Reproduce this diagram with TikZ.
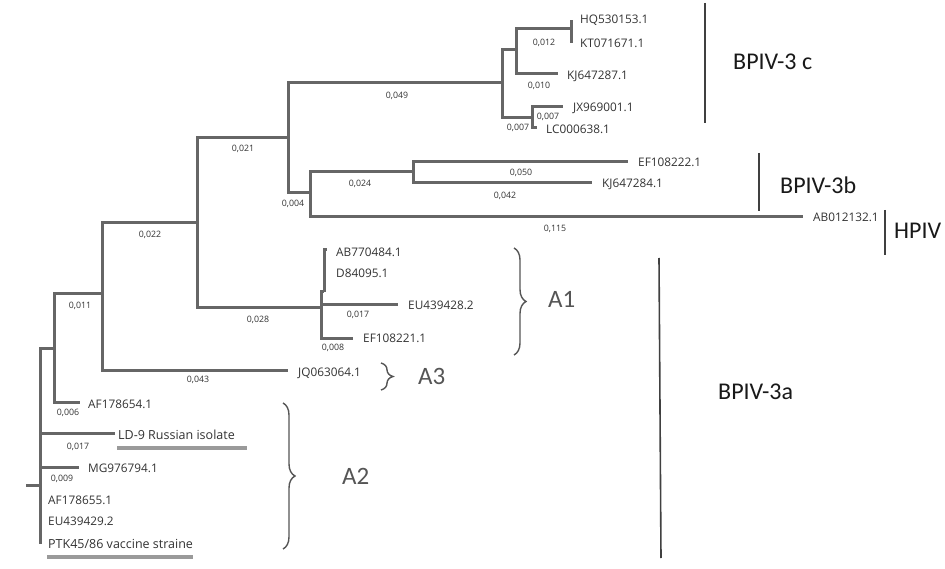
\documentclass[tikz,border=0pt]{standalone}
\usepackage{fontspec}
\setmainfont{Carlito}
\newfontfamily\tipfont{Open Sans}
\usetikzlibrary{decorations.pathreplacing}
\definecolor{treegray}{HTML}{666666}
\definecolor{tipgray}{HTML}{333333}
\definecolor{bracegray}{HTML}{555555}
\definecolor{ulgray}{HTML}{9A9A9A}
\begin{document}
\begin{tikzpicture}[x=1pt,y=-1pt,
  br/.style={draw=treegray,line width=3pt},
  tip/.style={anchor=west,inner sep=0pt,text=tipgray,font=\tipfont\fontsize{11.8}{12}\selectfont},
  tipbig/.style={tip,font=\tipfont\fontsize{12.5}{13}\selectfont},
  bl/.style={inner sep=0pt,text=tipgray,font=\tipfont\fontsize{8.8}{9}\selectfont},
  clade/.style={draw=black!75,line width=1.6pt},
  cladelabel/.style={anchor=west,inner sep=0pt,text=black!90,font=\fontsize{24}{28}\selectfont},
  grp/.style={anchor=west,inner sep=0pt,text=bracegray,font=\fontsize{25}{28}\selectfont},
  brc/.style={draw=bracegray,line width=1.4pt,decorate,decoration={brace,amplitude=12pt,aspect=0.5}},
  ul/.style={draw=ulgray,line width=3.5pt}]
\useasboundingbox[fill=white] (0,0) rectangle (945,569);

% ---- tree node coordinates ----
\coordinate (root) at (26,485);
\coordinate (r) at (40,485);
\coordinate (rbot) at (40,544);
\coordinate (n1) at (54,348);
\coordinate (a654) at (80,402);
\coordinate (n2) at (102,294);
\coordinate (jq) at (288,370);
\coordinate (n3) at (197,223);
\coordinate (nA1) at (321,308);
\coordinate (eu428) at (398,305);
\coordinate (ef221) at (353,338);
\coordinate (s1) at (324,292);
\coordinate (ab484) at (327,250);
\coordinate (d095) at (326,272);
\coordinate (n4) at (288,138);
\coordinate (c3) at (502,83);
\coordinate (c3a) at (516,50);
\coordinate (c3aa) at (571,29);
\coordinate (hq) at (571,20);
\coordinate (kt) at (571,43);
\coordinate (kj287) at (558,74);
\coordinate (c3b) at (532,118);
\coordinate (jx) at (563,107);
\coordinate (lc) at (537,128);
\coordinate (n5) at (310,193);
\coordinate (b3) at (413,172);
\coordinate (ef222) at (628,162);
\coordinate (kj284) at (592,183);
\coordinate (hpiv) at (803,217);
\coordinate (ld9) at (115,433);
\coordinate (mg) at (79,467);

% ---- branches ----
\draw[br] (root) -- (r);
\draw[br] (r) -- (rbot);
\draw[br] (r) |- (n1);
\draw[br] (r) |- (ld9);
\draw[br] (r) |- (mg);
\draw[br] (n1) |- (a654);
\draw[br] (n1) |- (n2);
\draw[br] (n2) |- (jq);
\draw[br] (n2) |- (n3);
\draw[br] (n3) |- (nA1);
\draw[br] (nA1) |- (eu428);
\draw[br] (nA1) |- (ef221);
\draw[br] (nA1) |- (s1);
\draw[br] (s1) |- (ab484);
\draw[br] (s1) |- (d095);
\draw[br] (n3) |- (n4);
\draw[br] (n4) |- (c3);
\draw[br] (c3) |- (c3a);
\draw[br] (c3a) |- (c3aa);
\draw[br] (c3aa) -- (hq);
\draw[br] (c3aa) -- (kt);
\draw[br] (c3a) |- (kj287);
\draw[br] (c3) |- (c3b);
\draw[br] (c3b) |- (jx);
\draw[br] (c3b) |- (lc);
\draw[br] (n4) |- (n5);
\draw[br] (n5) |- (b3);
\draw[br] (b3) |- (ef222);
\draw[br] (b3) |- (kj284);
\draw[br] (n5) |- (hpiv);

% ---- tip labels ----
\node[tip] (tHQ) at (580,20) {HQ530153.1};
\node[tip] (tKT) at (580,43) {KT071671.1};
\node[tip] (tKJ7) at (567,76) {KJ647287.1};
\node[tip] (tJX) at (573,108) {JX969001.1};
\node[tip] (tLC) at (546,129) {LC000638.1};
\node[tip] (tEF2) at (638,162) {EF108222.1};
\node[tip] (tKJ4) at (602,184) {KJ647284.1};
\node[tip] (tAB2) at (813,217) {AB012132.1};
\node[tip] (tAB4) at (336,252) {AB770484.1};
\node[tip] (tD84) at (336,273) {D84095.1};
\node[tip] (tEU8) at (408,305) {EU439428.2};
\node[tip] (tEF1) at (363,338) {EF108221.1};
\node[tip] (tJQ) at (298,373) {JQ063064.1};
\node[tip] (tAF4) at (88,404) {AF178654.1};
\node[tipbig] (tLD) at (118,435) {LD-9 Russian isolate};
\node[tip] (tMG) at (88,468) {MG976794.1};
\node[tip] (tAF5) at (48,500) {AF178655.1};
\node[tip] (tEU9) at (48,521) {EU439429.2};
\node[tipbig] (tPTK) at (48,544) {PTK45/86 vaccine straine};

% ---- underlines ----
\coordinate (ulA1) at (117,448); \coordinate (ulA2) at (247,448);
\coordinate (ulB1) at (47,557); \coordinate (ulB2) at (193,557);
\draw[ul] (ulA1) -- (ulA2);
\draw[ul] (ulB1) -- (ulB2);

% ---- branch lengths ----
\node[bl] (l049) at (397,96) {0,049};
\node[bl] (l021) at (243,149) {0,021};
\node[bl] (l022) at (150,235) {0,022};
\node[bl] (l011) at (80,306) {0,011};
\node[bl] (l043) at (198,380) {0,043};
\node[bl] (l028) at (258,320) {0,028};
\node[bl] (l024) at (360,184) {0,024};
\node[bl] (l004) at (293,204) {0,004};
\node[bl] (l050) at (521,173) {0,050};
\node[bl] (l042) at (505,196) {0,042};
\node[bl] (l115) at (555,229) {0,115};
\node[bl] (l017a) at (358,315) {0,017};
\node[bl] (l008) at (333,348) {0,008};
\node[bl] (l012) at (544,43) {0,012};
\node[bl] (l010) at (539,86) {0,010};
\node[bl] (l007a) at (548,117) {0,007};
\node[bl] (l007b) at (518,128) {0,007};
\node[bl] (l006) at (68,413) {0,006};
\node[bl] (l017b) at (78,447) {0,017};
\node[bl] (l009) at (62,479) {0,009};

% ---- clade bars and labels ----
\coordinate (cA) at (705,3); \coordinate (cB) at (705,123);
\draw[clade] (cA) -- (cB);
\node[cladelabel] (L3c) at (733,62) {BPIV-3 c};
\coordinate (bA) at (759,153); \coordinate (bB) at (759,211);
\draw[clade] (bA) -- (bB);
\node[cladelabel] (L3b) at (780,185) {BPIV-3b};
\coordinate (hA) at (885,210); \coordinate (hB) at (885,255);
\draw[clade] (hA) -- (hB);
\node[cladelabel] (LH) at (894,231) {HPIV};
\coordinate (aA) at (659,258); \coordinate (aB) at (661,558);
\draw[clade] (aA) -- (aB);
\node[cladelabel] (L3a) at (718,392) {BPIV-3a};

% ---- braces ----
\coordinate (A1t) at (514,248); \coordinate (A1b) at (514,355);
\draw[brc] (A1t) -- (A1b);
\node[grp] (GA1) at (548,299) {A1};
\coordinate (A3t) at (381,363); \coordinate (A3b) at (381,390);
\draw[brc] (A3t) -- (A3b);
\node[grp] (GA3) at (418,376) {A3};
\coordinate (A2t) at (283,403); \coordinate (A2b) at (283,549);
\draw[brc] (A2t) -- (A2b);
\node[grp] (GA2) at (342,476) {A2};
\end{tikzpicture}
\end{document}
